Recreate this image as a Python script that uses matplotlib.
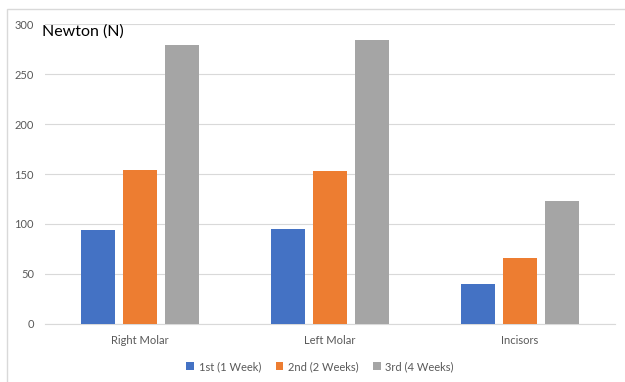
import numpy as np
import matplotlib
matplotlib.use("Agg")
import matplotlib.pyplot as plt
from matplotlib.patches import Rectangle

plt.rcParams["font.family"] = ["Lato", "DejaVu Sans"]

# ── Data ────────────────────────────────────────────────────────────────────
CATEGORIES = ["Right Molar", "Left Molar", "Incisors"]
SERIES = ["1st (1 Week)", "2nd (2 Weeks)", "3rd (4 Weeks)"]
WEEK1 = [94, 95, 40]
WEEK2 = [154, 153, 66]
WEEK4 = [279, 284, 123]
Y_TICKS = [0, 50, 100, 150, 200, 250, 300]

COLORS = ["#4472C4", "#ED7D31", "#A5A5A5"]
GRID = "#D9D9D9"
TICK = "#595959"

# ── Figure ──────────────────────────────────────────────────────────────────
fig = plt.figure(figsize=(6.25, 3.82), dpi=100, facecolor="white")
ax = fig.add_axes([0.072, 0.152, 0.912, 0.785])

# chart frame
fig.patches.append(Rectangle((7 / 625, -0.01), 1.0, 1 - 9 / 382 + 0.01,
                             transform=fig.transFigure, fill=False,
                             edgecolor=GRID, linewidth=1.0))

x = np.arange(len(CATEGORIES))
bar_w = 0.174
step = 0.221
for i, (vals, name, col) in enumerate(zip([WEEK1, WEEK2, WEEK4], SERIES, COLORS)):
    ax.bar(x + (i - 1) * step, vals, width=bar_w, color=col, label=name, zorder=3)

ax.set_xlim(-0.5, len(CATEGORIES) - 0.5)
ax.set_ylim(0, 300)
ax.set_yticks(Y_TICKS)
ax.set_xticks(x)
ax.set_xticklabels(CATEGORIES)
ax.tick_params(axis="both", length=0, labelsize=8, colors=TICK)
ax.tick_params(axis="x", pad=8)
ax.tick_params(axis="y", pad=8)
ax.grid(True, axis="y", color=GRID, linewidth=0.8, zorder=0)
for s in ["top", "right", "left"]:
    ax.spines[s].set_visible(False)
ax.spines["bottom"].set_color(GRID)

fig.text(42 / 625, 1 - 32 / 382, "Newton (N)", fontsize=11.5, color="black",
         ha="left", va="center")

fig.legend(loc="center", bbox_to_anchor=(0.512, 0.04), ncol=3, frameon=False,
           fontsize=8, labelcolor=TICK, handlelength=0.7, handleheight=0.7,
           handletextpad=0.4, columnspacing=1.3)

fig.savefig("out.png", dpi=100)
